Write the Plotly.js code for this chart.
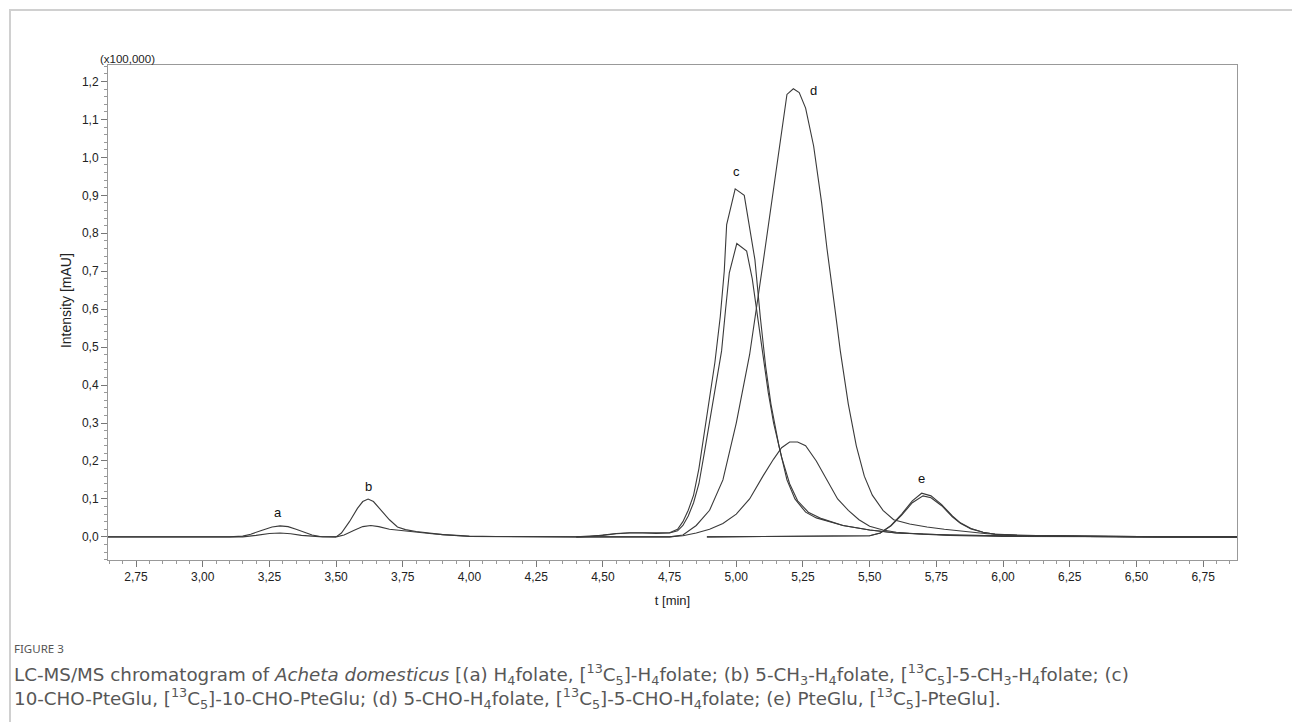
<!DOCTYPE html>
<html>
<head>
<meta charset="utf-8">
<script src="https://cdn.plot.ly/plotly-3.0.1.min.js"></script>
<style>
  html, body { margin: 0; padding: 0; background: #fff; }
  #frame { position: absolute; left: 9px; top: 9px; width: 1300px; height: 730px;
           border-left: 2px solid #d0d0d0; border-top: 2px solid #d0d0d0; box-sizing: border-box; }
  #chart { position: absolute; left: 0; top: 0; width: 1292px; height: 722px; }
</style>
</head>
<body>
<div id="frame"></div>
<div id="chart"></div>
<script>
// ---- data (t in min, intensity in x100,000) ----
const t_a1 = [2.645, 3.10, 3.15, 3.18, 3.22, 3.26, 3.29, 3.32, 3.35, 3.38, 3.41, 3.44, 3.50];
const i_a1 = [0, 0, 0.002, 0.007, 0.017, 0.026, 0.029, 0.027, 0.020, 0.012, 0.005, 0.001, 0];
const t_a2 = [2.645, 3.15, 3.20, 3.25, 3.29, 3.33, 3.37, 3.41, 3.45, 3.50];
const i_a2 = [0, 0, 0.004, 0.009, 0.010, 0.008, 0.004, 0.001, 0, 0];

const t_b1 = [3.50, 3.52, 3.55, 3.58, 3.60, 3.62, 3.64, 3.67, 3.70, 3.73, 3.76, 3.80, 3.85, 3.90, 3.95, 4.00, 4.10, 4.40];
const i_b1 = [0, 0.010, 0.040, 0.075, 0.093, 0.0995, 0.093, 0.070, 0.045, 0.026, 0.019, 0.014, 0.010, 0.006, 0.004, 0.002, 0.001, 0];
const t_b2 = [3.50, 3.53, 3.57, 3.60, 3.63, 3.66, 3.70, 3.75, 3.80, 3.85, 3.90, 3.95, 4.00, 4.40];
const i_b2 = [0, 0.005, 0.018, 0.027, 0.030, 0.027, 0.020, 0.016, 0.012, 0.009, 0.006, 0.003, 0.001, 0];

const t_c1 = [4.40, 4.45, 4.50, 4.55, 4.60, 4.65, 4.70, 4.75, 4.78, 4.80, 4.82, 4.84, 4.86, 4.88, 4.90, 4.92, 4.94, 4.955, 4.964, 4.996, 5.03, 5.05, 5.07, 5.09, 5.11, 5.13, 5.16, 5.19, 5.22, 5.26, 5.30, 5.40, 5.50, 5.60, 5.80, 6.00, 6.30, 6.877];
const i_c1 = [0, 0.001, 0.005, 0.009, 0.011, 0.011, 0.010, 0.011, 0.020, 0.040, 0.070, 0.110, 0.180, 0.270, 0.360, 0.460, 0.580, 0.700, 0.823, 0.917, 0.900, 0.820, 0.730, 0.580, 0.450, 0.350, 0.240, 0.150, 0.100, 0.065, 0.050, 0.030, 0.018, 0.010, 0.005, 0.003, 0.001, 0];
const t_c2 = [4.40, 4.45, 4.50, 4.55, 4.60, 4.65, 4.70, 4.75, 4.78, 4.80, 4.82, 4.84, 4.86, 4.88, 4.90, 4.92, 4.945, 4.96, 4.974, 5.002, 5.039, 5.06, 5.08, 5.10, 5.12, 5.14, 5.17, 5.20, 5.23, 5.27, 5.32, 5.40, 5.50, 5.60, 5.80, 6.00, 6.30, 6.877];
const i_c2 = [0, 0.001, 0.004, 0.008, 0.010, 0.010, 0.009, 0.010, 0.016, 0.030, 0.055, 0.090, 0.140, 0.220, 0.300, 0.390, 0.490, 0.600, 0.696, 0.773, 0.753, 0.680, 0.580, 0.480, 0.380, 0.300, 0.210, 0.140, 0.095, 0.065, 0.048, 0.030, 0.018, 0.010, 0.005, 0.003, 0.001, 0];

const t_d1 = [4.40, 4.75, 4.80, 4.85, 4.90, 4.95, 5.00, 5.05, 5.10, 5.14, 5.17, 5.19, 5.214, 5.236, 5.26, 5.29, 5.32, 5.34, 5.37, 5.39, 5.42, 5.45, 5.48, 5.51, 5.55, 5.59, 5.65, 5.715, 5.78, 5.84, 5.94, 6.05, 6.20, 6.50, 6.877];
const i_d1 = [0, 0, 0.005, 0.030, 0.070, 0.150, 0.300, 0.480, 0.720, 0.920, 1.070, 1.166, 1.181, 1.171, 1.130, 1.030, 0.880, 0.760, 0.600, 0.490, 0.350, 0.240, 0.160, 0.110, 0.070, 0.045, 0.034, 0.026, 0.020, 0.015, 0.008, 0.005, 0.002, 0, 0];
const t_d2 = [4.40, 4.75, 4.80, 4.85, 4.90, 4.95, 5.00, 5.05, 5.10, 5.14, 5.17, 5.20, 5.23, 5.26, 5.30, 5.34, 5.38, 5.42, 5.46, 5.50, 5.55, 5.60, 5.70, 5.80, 6.00, 6.877];
const i_d2 = [0, 0, 0.003, 0.010, 0.020, 0.035, 0.060, 0.100, 0.160, 0.205, 0.235, 0.250, 0.250, 0.240, 0.200, 0.150, 0.100, 0.070, 0.045, 0.028, 0.018, 0.012, 0.007, 0.004, 0.001, 0];

const t_e1 = [4.89, 5.20, 5.40, 5.50, 5.54, 5.58, 5.62, 5.66, 5.695, 5.73, 5.77, 5.81, 5.84, 5.88, 5.925, 5.97, 6.05, 6.30, 6.60, 6.877];
const i_e1 = [0, 0.001, 0.002, 0.003, 0.010, 0.030, 0.060, 0.095, 0.115, 0.108, 0.085, 0.055, 0.037, 0.022, 0.012, 0.007, 0.004, 0.002, 0, 0];
const t_e2 = [4.89, 5.20, 5.40, 5.50, 5.54, 5.58, 5.62, 5.66, 5.70, 5.73, 5.77, 5.81, 5.84, 5.88, 5.925, 5.97, 6.05, 6.30, 6.60, 6.877];
const i_e2 = [0, 0.001, 0.002, 0.003, 0.010, 0.029, 0.057, 0.090, 0.108, 0.103, 0.082, 0.053, 0.036, 0.021, 0.012, 0.007, 0.004, 0.002, 0, 0];

const peakLabels = ['a', 'b', 'c', 'd', 'e'];
const xTickVals = [2.75, 3.00, 3.25, 3.50, 3.75, 4.00, 4.25, 4.50, 4.75, 5.00, 5.25, 5.50, 5.75, 6.00, 6.25, 6.50, 6.75];

// ---- traces ----
const series = [
  [t_a1, i_a1], [t_a2, i_a2], [t_b1, i_b1], [t_b2, i_b2],
  [t_c1, i_c1], [t_c2, i_c2], [t_d1, i_d1], [t_d2, i_d2],
  [t_e1, i_e1], [t_e2, i_e2]
];
const data = series.map(s => ({
  x: s[0], y: s[1], type: 'scatter', mode: 'lines',
  line: {color: '#3a3a3a', width: 1.1}, showlegend: false, hoverinfo: 'x+y'
}));

const labelPos = [[3.282, 0.063], [3.623, 0.132], [5.000, 0.964], [5.289, 1.177], [5.696, 0.153]];
const annotations = peakLabels.map((l, k) => ({
  x: labelPos[k][0], y: labelPos[k][1], xref: 'x', yref: 'y', text: l, showarrow: false,
  font: {family: 'Liberation Sans, Arial, sans-serif', size: 13, color: '#111'}
}));

const capFont = {family: 'DejaVu Sans, sans-serif', size: 18.3, color: '#575757'};
annotations.push(
  {xref: 'paper', yref: 'paper', x: 0.0177, y: 1.012, xanchor: 'center', yanchor: 'middle', showarrow: false,
   text: '(x100,000)', font: {family: 'Liberation Sans, Arial, sans-serif', size: 11.5, color: '#222'}},
  {xref: 'paper', yref: 'paper', x: -0.0372, y: 0.523, xanchor: 'center', yanchor: 'middle', showarrow: false,
   textangle: -90, text: 'Intensity [mAU]',
   font: {family: 'Liberation Sans, Arial, sans-serif', size: 14, color: '#222'}},
  {xref: 'paper', yref: 'paper', x: -0.085, y: -0.178, xanchor: 'left', yanchor: 'middle', showarrow: false,
   text: 'FIGURE 3', font: {family: 'Noto Sans, sans-serif', size: 11.5, color: '#555'}},
  {xref: 'paper', yref: 'paper', x: -0.085, y: -0.232, xanchor: 'left', yanchor: 'middle', showarrow: false,
   text: 'LC-MS/MS chromatogram of <i>Acheta domesticus</i> [(a) H<sub>4</sub>folate, [<sup>13</sup>C<sub>5</sub>]-H<sub>4</sub>folate; (b) 5-CH<sub>3</sub>-H<sub>4</sub>folate, [<sup>13</sup>C<sub>5</sub>]-5-CH<sub>3</sub>-H<sub>4</sub>folate; (c)',
   font: capFont},
  {xref: 'paper', yref: 'paper', x: -0.085, y: -0.279, xanchor: 'left', yanchor: 'middle', showarrow: false,
   text: '10-CHO-PteGlu, [<sup>13</sup>C<sub>5</sub>]-10-CHO-PteGlu; (d) 5-CHO-H<sub>4</sub>folate, [<sup>13</sup>C<sub>5</sub>]-5-CHO-H<sub>4</sub>folate; (e) PteGlu, [<sup>13</sup>C<sub>5</sub>]-PteGlu].',
   font: capFont}
);

const layout = {
  width: 1292, height: 722,
  margin: {l: 108, r: 55, t: 65, b: 162},
  paper_bgcolor: 'rgba(0,0,0,0)', plot_bgcolor: '#fff',
  separators: ',.',
  xaxis: {
    range: [2.645, 6.877], tickmode: 'array', tickvals: xTickVals, tickformat: '.2f',
    ticks: 'outside', ticklen: 6, tickcolor: '#777',
    tickfont: {family: 'Liberation Sans, Arial, sans-serif', size: 12, color: '#222'},
    minor: {dtick: 0.05, ticks: 'outside', ticklen: 3, tickcolor: '#999'},
    showline: true, linecolor: '#999', linewidth: 1, mirror: true,
    showgrid: false, zeroline: false,
    title: {text: 't [min]', font: {family: 'Liberation Sans, Arial, sans-serif', size: 13, color: '#222'}, standoff: 12}
  },
  yaxis: {
    range: [-0.061, 1.2435], dtick: 0.1, tick0: 0, tickformat: '.1f',
    ticks: 'outside', ticklen: 6, tickcolor: '#777',
    tickfont: {family: 'Liberation Sans, Arial, sans-serif', size: 12, color: '#222'},
    minor: {dtick: 0.02, ticks: 'outside', ticklen: 3, tickcolor: '#999'},
    showline: true, linecolor: '#999', linewidth: 1, mirror: true,
    showgrid: false, zeroline: false
  },
  annotations: annotations
};

Plotly.newPlot('chart', data, layout, {staticPlot: true, displayModeBar: false});
</script>
</body>
</html>
